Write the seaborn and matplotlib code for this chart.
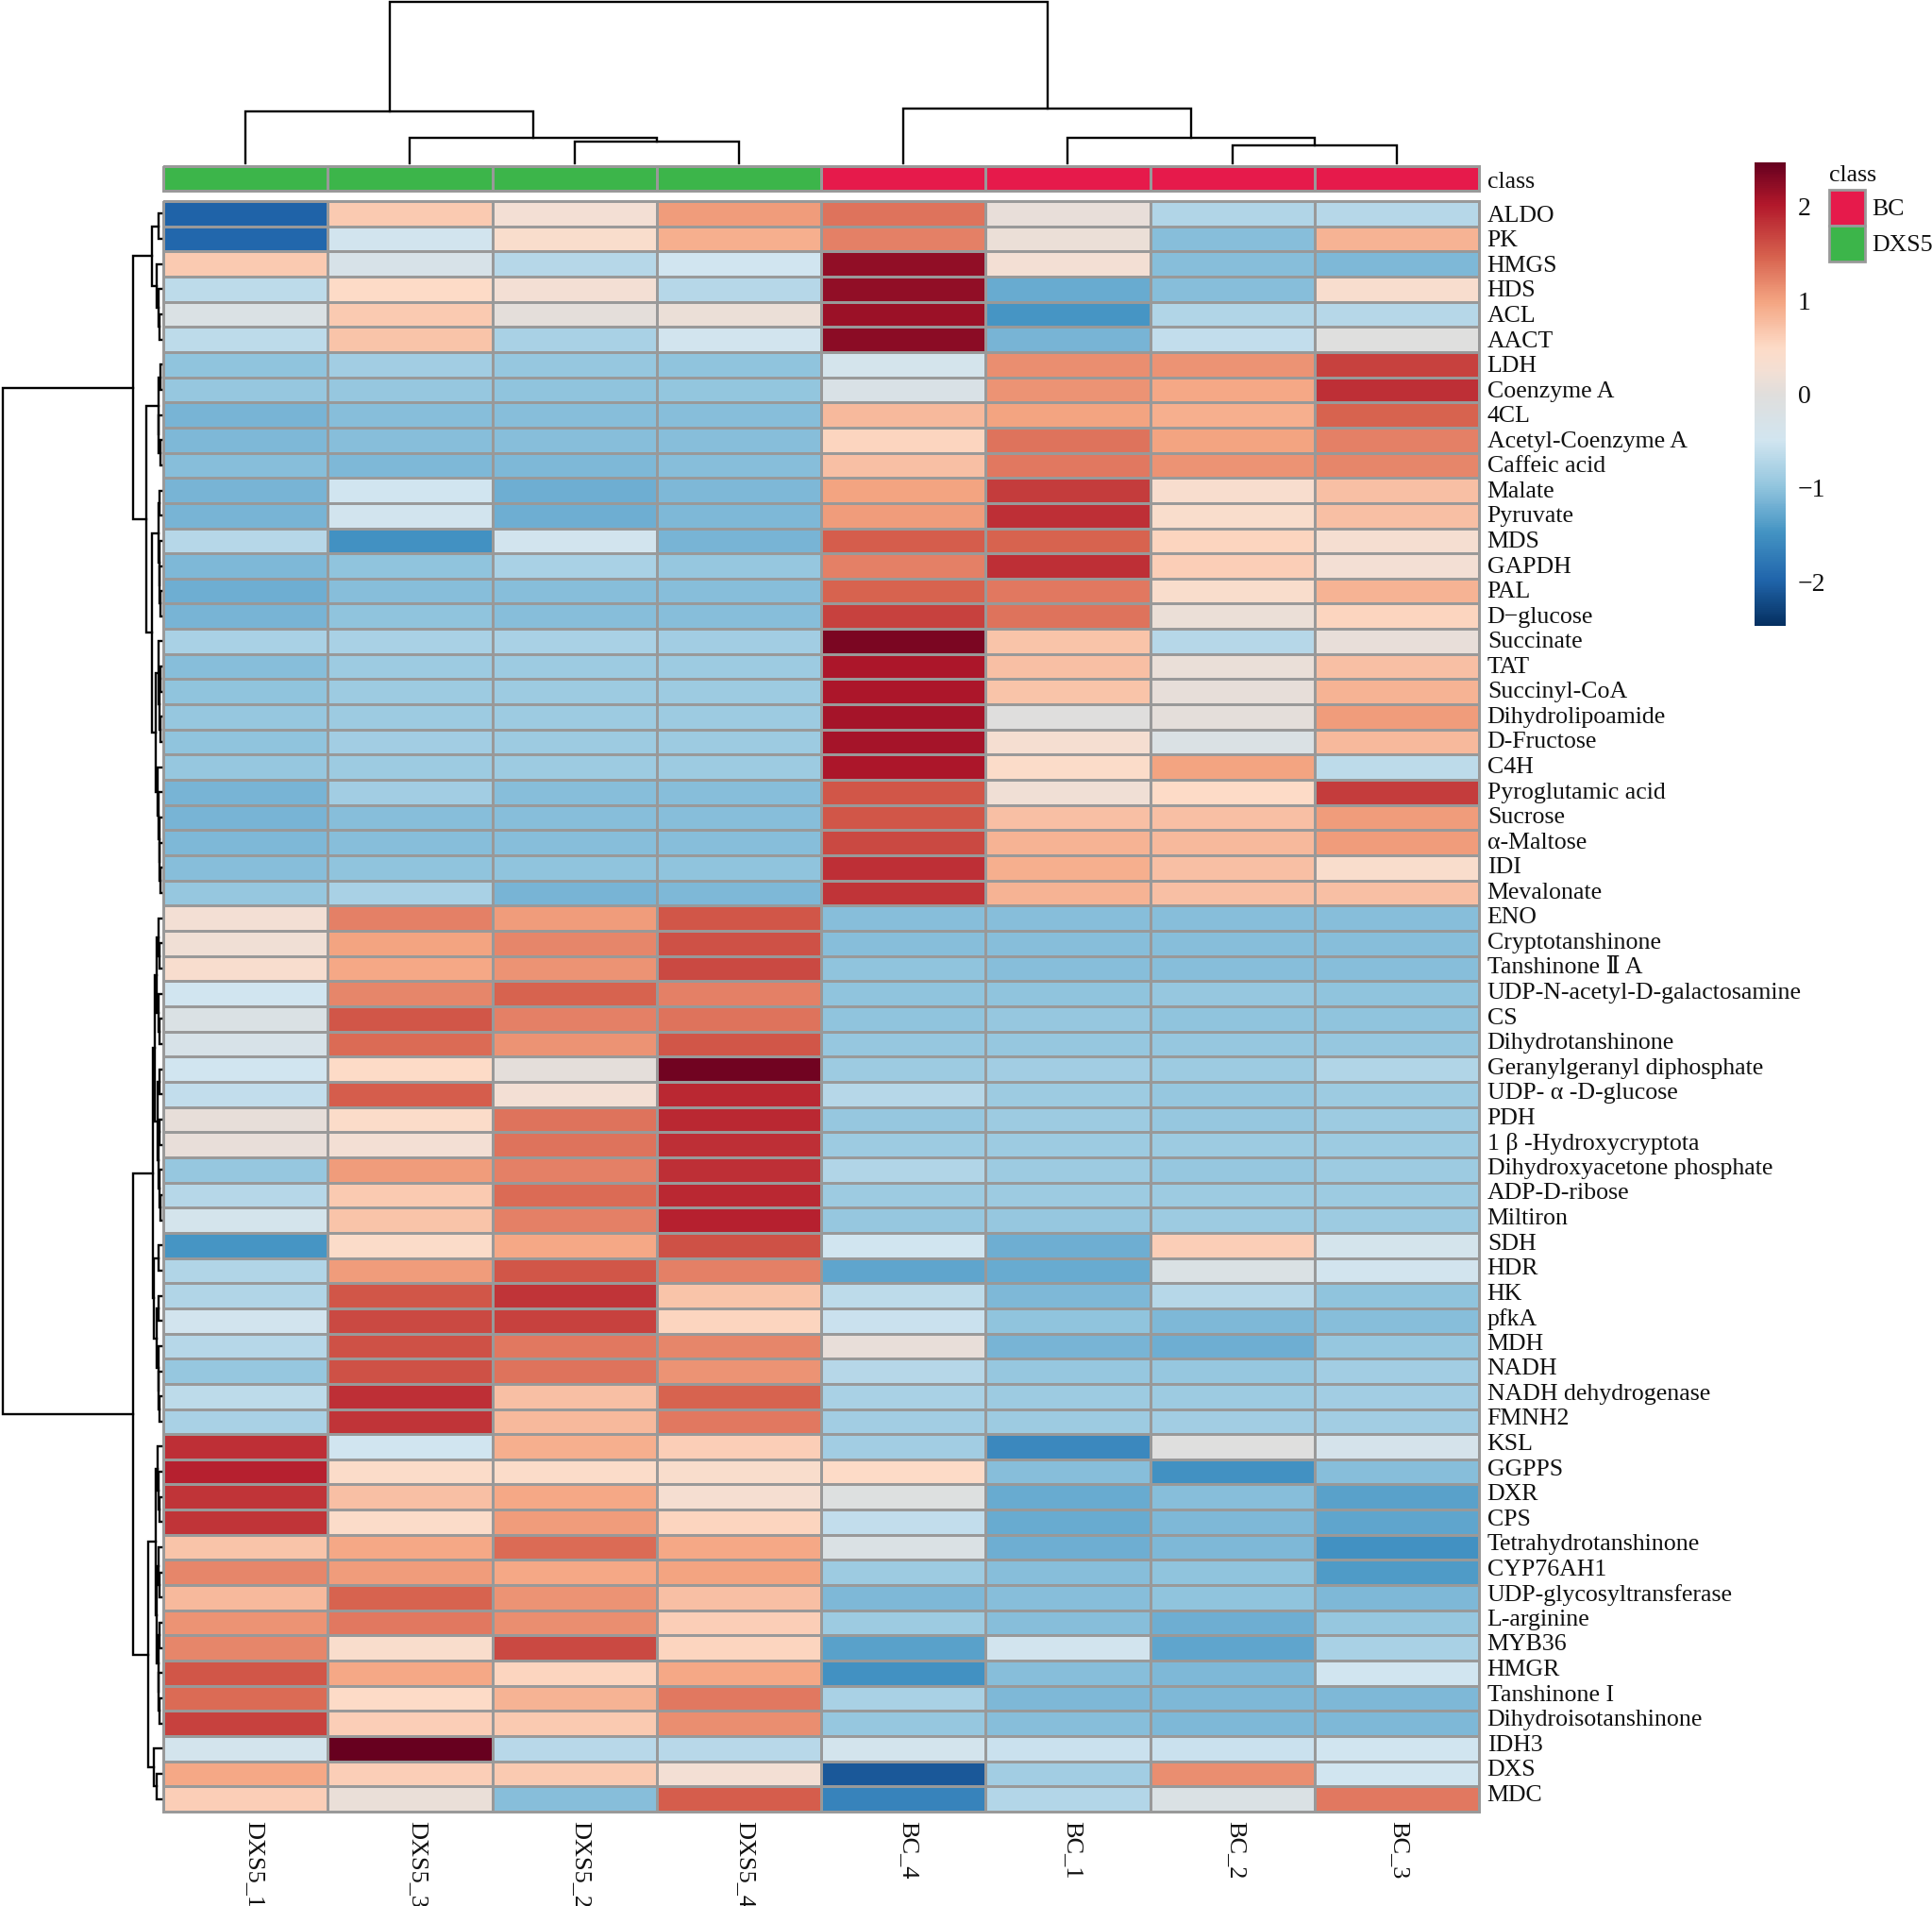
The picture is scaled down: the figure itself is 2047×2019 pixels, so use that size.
import numpy as np
import pandas as pd
import matplotlib
matplotlib.use('Agg')
import matplotlib.pyplot as plt
from matplotlib.colors import LinearSegmentedColormap, ListedColormap
from matplotlib.patches import Rectangle
import seaborn as sns

W, H = 2047, 2019

samples = ['DXS5_1', 'DXS5_3', 'DXS5_2', 'DXS5_4', 'BC_4', 'BC_1', 'BC_2', 'BC_3']
sample_class = [1, 1, 1, 1, 0, 0, 0, 0]
class_names = ['BC', 'DXS5']
class_colors = ['#E61A4B', '#3CB54A']

labels_a = ['ALDO', 'PK', 'HMGS', 'HDS', 'ACL', 'AACT', 'LDH', 'Coenzyme A', '4CL', 'Acetyl-Coenzyme A',
            'Caffeic acid', 'Malate', 'Pyruvate', 'MDS', 'GAPDH', 'PAL', 'D\u2212glucose', 'Succinate', 'TAT',
            'Succinyl-CoA', 'Dihydrolipoamide', 'D-Fructose', 'C4H', 'Pyroglutamic acid', 'Sucrose',
            '\u03b1-Maltose', 'IDI', 'Mevalonate']
labels_b = ['ENO', 'Cryptotanshinone', 'Tanshinone \u2161 A', 'UDP-N-acetyl-D-galactosamine', 'CS',
            'Dihydrotanshinone', 'Geranylgeranyl diphosphate', 'UDP- \u03b1 -D-glucose', 'PDH',
            '1 \u03b2 -Hydroxycryptota', 'Dihydroxyacetone phosphate', 'ADP-D-ribose', 'Miltiron', 'SDH', 'HDR',
            'HK', 'pfkA', 'MDH', 'NADH', 'NADH dehydrogenase', 'FMNH2']
labels_c = ['KSL', 'GGPPS', 'DXR', 'CPS', 'Tetrahydrotanshinone', 'CYP76AH1', 'UDP-glycosyltransferase',
            'L-arginine', 'MYB36', 'HMGR', 'Tanshinone I', 'Dihydroisotanshinone', 'IDH3', 'DXS', 'MDC']

values_a = [
    [-2.0, 0.65, 0.25, 1.05, 1.35, 0.1, -0.75, -0.7],
    [-1.95, -0.45, 0.4, 0.9, 1.25, 0.15, -1.05, 0.85],
    [0.65, -0.3, -0.7, -0.5, 2.2, 0.25, -1.05, -1.1],
    [-0.65, 0.5, 0.25, -0.7, 2.2, -1.25, -1.05, 0.35],
    [-0.2, 0.65, 0.05, 0.15, 2.15, -1.45, -0.75, -0.7],
    [-0.65, 0.7, -0.8, -0.45, 2.25, -1.15, -0.6, -0.05],
    [-1.0, -0.85, -0.95, -1.0, -0.4, 1.15, 1.1, 1.7],
    [-0.95, -0.95, -1.0, -0.98, -0.25, 1.1, 0.95, 1.85],
    [-1.15, -1.05, -1.05, -1.05, 0.8, 1.0, 0.9, 1.45],
    [-1.1, -1.05, -1.05, -1.05, 0.55, 1.35, 1.0, 1.25],
    [-1.05, -1.1, -1.1, -1.05, 0.75, 1.3, 1.1, 1.2],
    [-1.15, -0.5, -1.2, -1.1, 1.0, 1.75, 0.35, 0.75],
    [-1.15, -0.45, -1.2, -1.1, 1.05, 1.85, 0.4, 0.75],
    [-0.7, -1.5, -0.45, -1.15, 1.5, 1.45, 0.55, 0.3],
    [-1.1, -1.0, -0.8, -0.95, 1.25, 1.85, 0.6, 0.25],
    [-1.2, -1.05, -1.05, -1.05, 1.45, 1.3, 0.4, 0.85],
    [-1.15, -1.0, -1.05, -1.05, 1.7, 1.35, 0.15, 0.55],
    [-0.8, -0.8, -0.8, -0.85, 2.35, 0.7, -0.7, 0.1],
    [-1.05, -0.9, -0.9, -0.9, 2.05, 0.75, 0.12, 0.75],
    [-1.0, -0.9, -0.9, -0.9, 2.05, 0.7, 0.08, 0.85],
    [-0.95, -0.9, -0.9, -0.9, 2.1, -0.02, 0.05, 1.05],
    [-1.0, -0.85, -0.9, -0.9, 2.1, 0.3, -0.2, 0.8],
    [-0.95, -0.9, -0.9, -0.9, 2.05, 0.45, 1.0, -0.65],
    [-1.15, -0.85, -1.05, -1.05, 1.55, 0.2, 0.5, 1.75],
    [-1.15, -1.05, -1.05, -1.05, 1.55, 0.75, 0.75, 1.05],
    [-1.1, -1.05, -1.05, -1.05, 1.65, 0.85, 0.8, 1.05],
    [-1.05, -1.0, -1.0, -1.0, 1.85, 0.9, 0.75, 0.4],
    [-0.95, -0.8, -1.15, -1.1, 1.8, 0.85, 0.75, 0.75],
]
values_b = [
    [0.25, 1.25, 1.05, 1.55, -1.05, -1.05, -1.05, -1.05],
    [0.2, 1.0, 1.2, 1.6, -1.05, -1.05, -1.05, -1.05],
    [0.35, 0.95, 1.1, 1.65, -1.0, -1.05, -1.05, -1.05],
    [-0.5, 1.2, 1.45, 1.25, -1.0, -1.0, -0.95, -1.0],
    [-0.2, 1.55, 1.25, 1.35, -1.0, -0.95, -1.0, -1.0],
    [-0.3, 1.4, 1.1, 1.55, -0.95, -0.95, -0.95, -0.95],
    [-0.5, 0.5, 0.05, 2.4, -0.9, -0.85, -0.9, -0.75],
    [-0.6, 1.5, 0.25, 1.9, -0.7, -0.9, -0.95, -0.9],
    [0.08, 0.45, 1.35, 1.9, -0.95, -0.9, -0.95, -0.9],
    [0.1, 0.25, 1.35, 1.85, -0.9, -0.9, -0.9, -0.9],
    [-0.95, 1.05, 1.25, 1.85, -0.75, -0.9, -0.95, -0.9],
    [-0.7, 0.65, 1.4, 1.9, -0.9, -0.9, -0.9, -0.9],
    [-0.4, 0.7, 1.25, 1.95, -0.95, -0.95, -0.9, -0.9],
    [-1.45, 0.45, 0.95, 1.6, -0.5, -1.2, 0.6, -0.4],
    [-0.75, 1.05, 1.55, 1.25, -1.3, -1.25, -0.2, -0.45],
    [-0.75, 1.55, 1.8, 0.7, -0.65, -1.1, -0.7, -1.0],
    [-0.45, 1.65, 1.7, 0.55, -0.55, -1.0, -1.1, -1.05],
    [-0.7, 1.6, 1.3, 1.2, 0.1, -1.15, -1.2, -0.95],
    [-0.95, 1.6, 1.35, 1.1, -0.7, -0.95, -0.95, -0.85],
    [-0.65, 1.85, 0.75, 1.45, -0.8, -0.9, -0.9, -0.85],
    [-0.8, 1.8, 0.8, 1.3, -0.85, -0.9, -0.85, -0.85],
]
values_c = [
    [1.85, -0.5, 0.9, 0.6, -0.85, -1.6, -0.05, -0.35],
    [1.95, 0.45, 0.45, 0.4, 0.5, -1.05, -1.5, -1.05],
    [1.8, 0.75, 0.95, 0.3, -0.1, -1.25, -1.05, -1.35],
    [1.8, 0.45, 1.05, 0.55, -0.6, -1.25, -1.1, -1.3],
    [0.7, 0.95, 1.4, 0.95, -0.2, -1.2, -1.1, -1.5],
    [1.2, 1.05, 0.95, 1.0, -0.9, -1.05, -1.0, -1.4],
    [0.8, 1.45, 1.1, 0.75, -1.1, -1.05, -1.0, -1.1],
    [1.1, 1.3, 1.15, 0.6, -0.9, -1.05, -1.2, -0.95],
    [1.2, 0.4, 1.65, 0.55, -1.35, -0.45, -1.3, -0.8],
    [1.55, 0.95, 0.55, 0.95, -1.5, -1.05, -1.1, -0.5],
    [1.4, 0.5, 0.85, 1.3, -0.8, -1.1, -1.1, -1.1],
    [1.7, 0.6, 0.65, 1.15, -0.95, -1.05, -1.1, -1.1],
    [-0.42, 2.47, -0.68, -0.68, -0.42, -0.55, -0.55, -0.5],
    [0.95, 0.6, 0.65, 0.25, -2.1, -0.85, 1.15, -0.5],
    [0.6, 0.12, -1.05, 1.5, -1.65, -0.72, -0.2, 1.3],
]

# merge trees: (merge height, left child, right child), ints are leaves
col_tree = (170, (54.5, 0, (27, 1, (23, 2, 3))), (58, 4, (27, 5, (19, 6, 7))))

tree_top = (10, (3, 0, 1), (5, 2, (3, 3, (2, 4, 5))))
tree_mid1 = (3.5, (1.5, 6, 7), (3, 8, (1.5, 9, 10)))
tree_mid2 = (3, (2, 11, 12), (2.5, 13, (2, 14, (1.5, 15, 16))))
tree_mid3 = (6, (3.5, 17, (2.5, (1.5, 18, 19), (1.5, 20, 21))),
             (4, 22, (3, 23, (2.5, 24, (2, 25, (1.5, 26, 27))))))
tree_up = (30, tree_top, (16, tree_mid1, (10.5, tree_mid2, tree_mid3)))

tree_low1 = (7, (5, (3, 28, (2, 29, 30)), (3, 31, (2, 32, 33))),
             (4, (2.5, 34, 35), (3.5, (2, 36, 37), (2.5, 38, (1.5, 39, 40)))))
tree_low2 = (8, (3.5, 41, 42), (5, (3, 43, 44), (3.5, 45, (3, 46, (2, 47, 48)))))
tree_low3 = (6, (4, 49, (3, 50, (2, 51, 52))),
             (5, (3, 53, (2, 54, 55)), (3.5, (2, 56, 57), (3, 58, (2, 59, 60)))))
tree_low4 = (8, 61, (5, 62, 63))
tree_down = (30, (9, tree_low1, tree_low2), (14, tree_low3, tree_low4))
row_tree = (170, tree_up, tree_down)

row_labels = labels_a + labels_b + labels_c
df = pd.DataFrame(np.array(values_a + values_b + values_c), index=row_labels, columns=samples)

serif = ['Liberation Serif', 'DejaVu Serif', 'Noto Sans CJK SC']
plt.rcParams['font.family'] = serif
text_color = '#111111'
grid_color = '#999999'

cmap = LinearSegmentedColormap.from_list('rdbu_grey', [
    (0.0, '#053061'), (0.1, '#2166ac'), (0.2, '#4393c3'), (0.3, '#92c5de'), (0.4, '#d1e5f0'),
    (0.5, '#e0dedc'), (0.55, '#f3dfd4'), (0.6, '#fddbc7'), (0.7, '#f4a582'), (0.8, '#d6604d'),
    (0.91, '#b2182b'), (1.0, '#67001f')])


def px_axes(fig, x0, y0, x1, y1):
    # axes from pixel box, y measured from the top of the image
    return fig.add_axes([x0 / W, 1 - y1 / H, (x1 - x0) / W, (y1 - y0) / H])


def draw_tree(ax, node, horizontal):
    # returns (leaf position, height) for a node and draws its bracket
    if isinstance(node, int):
        return node + 0.5, 0
    h, left, right = node
    p1, h1 = draw_tree(ax, left, horizontal)
    p2, h2 = draw_tree(ax, right, horizontal)
    if horizontal:
        ax.plot([h1, h, h, h2], [p1, p1, p2, p2], color='black', lw=1.7, solid_joinstyle='miter')
    else:
        ax.plot([p1, p1, p2, p2], [h1, h, h, h2], color='black', lw=1.7, solid_joinstyle='miter')
    return (p1 + p2) / 2, h


fig = plt.figure(figsize=(W / 100, H / 100), dpi=100)

heat_x0, heat_x1 = 173, 1567
ax_heat = px_axes(fig, heat_x0, 213, heat_x1, 1919)
ax_cbar = px_axes(fig, 1859, 172, 1892, 663)
sns.heatmap(df, ax=ax_heat, cbar_ax=ax_cbar, cmap=cmap, vmin=-2.47, vmax=2.47,
            linewidths=2, linecolor=grid_color)
ax_heat.collections[0].set_clip_on(False)
ax_heat.yaxis.tick_right()
# the labels run a little tighter than the cells in the original
ax_heat.set_yticks((np.arange(len(row_labels)) + 0.5) * 0.9962)
ax_heat.set_yticklabels(row_labels, rotation=0, fontsize=18.6, color=text_color)
ax_heat.set_xticks(0.55 + np.arange(len(samples)) * 0.995)
ax_heat.set_xticklabels(samples, rotation=270, fontsize=19, color=text_color, va='top', ha='center')
ax_heat.tick_params(axis='both', length=0)
ax_heat.tick_params(axis='y', pad=6.3)
ax_heat.tick_params(axis='x', pad=7)
ax_heat.set_xlabel('')
ax_heat.set_ylabel('')

ax_cbar.yaxis.tick_right()
ax_cbar.set_yticks([-2, -1, 0, 1, 2])
ax_cbar.set_yticklabels(['\u22122', '\u22121', '0', '1', '2'], fontsize=20, color=text_color)
ax_cbar.tick_params(axis='y', length=0, pad=9)

# class strip on top of the heat map
ax_bar = px_axes(fig, heat_x0, 176, heat_x1, 202)
bar_df = pd.DataFrame([sample_class], index=['class'], columns=samples)
sns.heatmap(bar_df, ax=ax_bar, cmap=ListedColormap(class_colors), vmin=0, vmax=1, cbar=False,
            linewidths=2, linecolor=grid_color)
ax_bar.collections[0].set_clip_on(False)
ax_bar.set_xticks([])
ax_bar.set_xlabel('')
ax_bar.set_ylabel('')
ax_bar.yaxis.tick_right()
ax_bar.set_yticks([0.55])
ax_bar.set_yticklabels(['class'], rotation=0, fontsize=18.6, color=text_color)
ax_bar.tick_params(axis='y', length=0, pad=6.3)

# dendrograms
ax_top = px_axes(fig, heat_x0, 2, heat_x1, 173)
draw_tree(ax_top, col_tree, False)
ax_top.set_xlim(0, len(samples))
ax_top.set_ylim(0, 170)
ax_top.axis('off')
for line in ax_top.lines:
    line.set_clip_on(False)

ax_left = px_axes(fig, 3, 213, 171, 1919)
draw_tree(ax_left, row_tree, True)
ax_left.set_xlim(170, 0)
ax_left.set_ylim(len(row_labels), 0)
ax_left.axis('off')
for line in ax_left.lines:
    line.set_clip_on(False)

# class legend
ax_leg = px_axes(fig, 1938, 201, 1976, 277)
ax_leg.set_xlim(0, 1)
ax_leg.set_ylim(len(class_names), 0)
ax_leg.axis('off')
for i, name in enumerate(class_names):
    ax_leg.add_patch(Rectangle((0, i), 1, 1, facecolor=class_colors[i], edgecolor=grid_color, lw=2, clip_on=False))
    ax_leg.text(1.18, i + 0.56, name, va='center', ha='left', fontsize=18.6, color=text_color)
ax_leg.text(0, -0.4, 'class', va='center', ha='left', fontsize=18.6, color=text_color)

fig.savefig('out.png', dpi=100)
